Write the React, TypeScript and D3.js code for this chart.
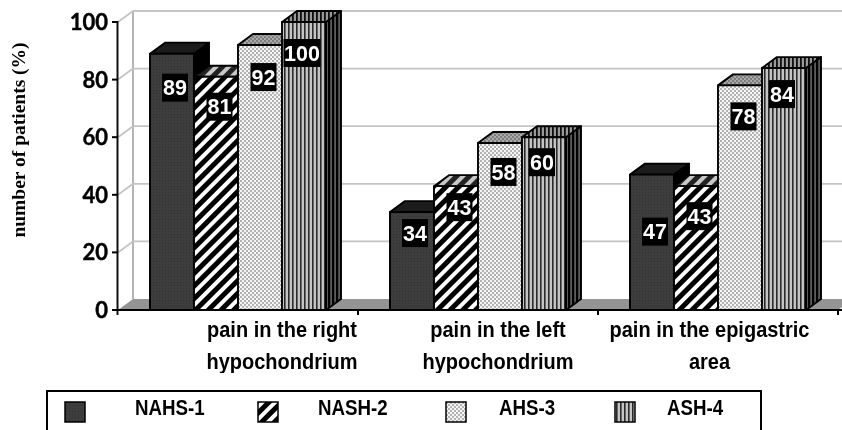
import React from "react";
import * as d3 from "d3";

const categories = ["right", "left", "epigastric"];
const categoryLines = [
  ["pain in the right", "hypochondrium"],
  ["pain in the left", "hypochondrium"],
  ["pain in the epigastric", "area"],
];
const seriesNames = ["NAHS-1", "NASH-2", "AHS-3", "ASH-4"];
const nahs1 = [89, 34, 47];
const nash2 = [81, 43, 43];
const ahs3 = [92, 58, 78];
const ash4 = [100, 60, 84];
const allSeries = [nahs1, nash2, ahs3, ash4];
const yTicks = [0, 20, 40, 60, 80, 100];

// layout only: vertical distance of each value label below its bar top (series x category)
const labelDrop = [
  [34, 21, 57],
  [30, 21, 30],
  [32, 29, 31],
  [31, 25, 26],
];
const labelShift = [3, 3.5, 3.5, -2];
const categoryShift = [44, 20, -8.5];

const W = 842, H = 430;
const x0 = 118, x1 = 838, yBase = 310, yTop = 22;
const dx = 15, dy = -11;
const font = "'Liberation Sans', Arial, sans-serif";

const x = d3.scaleBand<string>().domain(categories).range([x0, x1]).paddingInner(64 / 240).paddingOuter(32 / 240);
const sx = d3.scaleBand<string>().domain(seriesNames).range([0, x.bandwidth()]);
const y = d3.scaleLinear().domain([0, 100]).range([yBase, yTop]);

const fills = {
  front: ["url(#dark)", "url(#hatch)", "url(#dots)", "url(#stripes)"],
  top: ["#1c1c1c", "url(#hatchTop)", "url(#dotsTop)", "url(#stripesTop)"],
  side: ["#050505", "url(#hatchSide)", "url(#dotsSide)", "url(#stripesSide)"],
};

const poly = (pts: number[][]) => pts.map((p) => p.join(",")).join(" ");

function Bar({ s, c }: { s: number; c: number }) {
  const v = allSeries[s][c];
  const l = x(categories[c])! + sx(seriesNames[s])!;
  const r = l + sx.bandwidth();
  const t = y(v);
  return (
    <g stroke="#000" strokeWidth={1.9} strokeLinejoin="round">
      <polygon points={poly([[r, t], [r + dx, t + dy], [r + dx, yBase + dy], [r, yBase]])} fill={fills.side[s]} />
      <polygon points={poly([[l, t], [l + dx, t + dy], [r + dx, t + dy], [r, t]])} fill={fills.top[s]} />
      <rect x={l} y={t} width={r - l} height={yBase - t} fill={fills.front[s]} />
    </g>
  );
}

function ValueLabel({ s, c }: { s: number; c: number }) {
  const v = allSeries[s][c];
  const l = x(categories[c])! + sx(seriesNames[s])!;
  const cx = l + sx.bandwidth() / 2 + labelShift[s];
  const cy = y(v) + labelDrop[s][c];
  const w = v === 100 ? 37 : 26;
  return (
    <g>
      <rect x={cx - w / 2} y={cy - 14} width={w} height={28} fill="#000" />
      <text x={cx} y={cy + 7.7} textAnchor="middle" fontFamily={font} fontWeight={700} fontSize={21.5} fill="#fff">{v}</text>
    </g>
  );
}

const legendX = [65, 258, 446, 615];
const legendTextX = [135, 318, 499, 667];

export default function App() {
  return (
    <svg width={W} height={H} viewBox={`0 0 ${W} ${H}`} style={{ position: "absolute", left: 0, top: 0, background: "#fff" }}>
      <defs>
        <filter id="soft"><feGaussianBlur stdDeviation={0.45} /></filter>
        <pattern id="dark" width={3} height={3} patternUnits="userSpaceOnUse">
          <rect width={3} height={3} fill="#3c3c3c" />
          <rect width={1} height={1} fill="#333" />
        </pattern>
        <pattern id="hatch" width={9} height={9} patternUnits="userSpaceOnUse" patternTransform="rotate(-45)">
          <rect width={9} height={9} fill="#000" />
          <rect width={9} height={4} fill="#fff" />
        </pattern>
        <pattern id="hatchTop" width={9} height={9} patternUnits="userSpaceOnUse" patternTransform="rotate(-45)">
          <rect width={9} height={9} fill="#222" />
          <rect width={9} height={4} fill="#c8c8c8" />
        </pattern>
        <pattern id="hatchSide" width={7} height={7} patternUnits="userSpaceOnUse" patternTransform="rotate(-20)">
          <rect width={7} height={7} fill="#000" />
          <rect width={7} height={2} fill="#666" />
        </pattern>
        <pattern id="dots" width={4} height={4} patternUnits="userSpaceOnUse">
          <rect width={4} height={4} fill="#f4f4f4" />
          <circle cx={1} cy={1} r={0.75} fill="#555" />
          <circle cx={3} cy={3} r={0.75} fill="#555" />
        </pattern>
        <pattern id="dotsTop" width={4} height={4} patternUnits="userSpaceOnUse">
          <rect width={4} height={4} fill="#aaa" />
          <circle cx={1} cy={1} r={0.8} fill="#444" />
          <circle cx={3} cy={3} r={0.8} fill="#444" />
        </pattern>
        <pattern id="dotsSide" width={4} height={4} patternUnits="userSpaceOnUse">
          <rect width={4} height={4} fill="#777" />
          <circle cx={1} cy={1} r={0.9} fill="#222" />
          <circle cx={3} cy={3} r={0.9} fill="#222" />
        </pattern>
        <pattern id="stripes" width={4} height={4} patternUnits="userSpaceOnUse">
          <rect width={4} height={4} fill="#c4c4c4" />
          <rect width={1.6} height={4} fill="#2a2a2a" />
        </pattern>
        <pattern id="stripesTop" width={4} height={4} patternUnits="userSpaceOnUse">
          <rect width={4} height={4} fill="#999" />
          <rect width={1.8} height={4} fill="#111" />
        </pattern>
        <pattern id="stripesSide" width={4} height={4} patternUnits="userSpaceOnUse">
          <rect width={4} height={4} fill="#5c5c5c" />
          <rect width={2.2} height={4} fill="#000" />
        </pattern>
      </defs>

      <g filter="url(#soft)">
        {/* floor */}
        <polygon points={poly([[x0, yBase], [x0 + dx, yBase + dy], [x1 + dx, yBase + dy], [x1, yBase]])} fill="#949494" />
        {/* left wall and grid */}
        <line x1={x0 + dx} x2={x0 + dx} y1={yBase + dy} y2={yTop + dy} stroke="#b5b5b5" strokeWidth={2} />
        {yTicks.slice(1).map((t) => (
          <g key={t} stroke="#c4c4c4" strokeWidth={1.8}>
            <line x1={x0} y1={y(t)} x2={x0 + dx} y2={y(t) + dy} />
            <line x1={x0 + dx} y1={y(t) + dy} x2={W} y2={y(t) + dy} />
          </g>
        ))}

        {/* bars */}
        {categories.map((_, c) => seriesNames.map((_n, s) => <Bar key={`${c}-${s}`} s={s} c={c} />))}
        {categories.map((_, c) => seriesNames.map((_n, s) => <ValueLabel key={`l${c}-${s}`} s={s} c={c} />))}

        {/* axes */}
        <line x1={x0 - 0.5} x2={x0 - 0.5} y1={yTop - 1} y2={yBase + 5} stroke="#111" strokeWidth={2} />
        <line x1={x0 - 6} x2={W} y1={yBase} y2={yBase} stroke="#000" strokeWidth={2} />
        {yTicks.map((t) => (
          <g key={t}>
            <line x1={x0 - 6} x2={x0} y1={y(t)} y2={y(t)} stroke="#000" strokeWidth={2} />
            <text x={x0 - 10} y={y(t) + 8} textAnchor="end" fontFamily="Lato, sans-serif" fontWeight={700} fontSize={22} stroke="#000" strokeWidth={0.4} fill="#000">{t}</text>
          </g>
        ))}
        {categories.map((c) => {
          const right = x(c)! - x.step() * (32 / 240) + x.step();
          return <line key={c} x1={right} x2={right} y1={yBase} y2={yBase + 5} stroke="#000" strokeWidth={2} />;
        })}
        <text transform="translate(25,140) rotate(-90)" textAnchor="middle" fontFamily="'Liberation Serif', serif" fontWeight={700} fontSize={19.5} fill="#000">number of patients (%)</text>

        {categoryLines.map((lines, i) => {
          const cx = x(categories[i])! + x.bandwidth() / 2 + categoryShift[i];
          return lines.map((ln, j) => (
            <text key={ln + j} transform={`translate(${cx},${337 + j * 31.5}) scale(1,1.1)`} textAnchor="middle" fontFamily={font} fontWeight={700} fontSize={20} fill="#000">{ln}</text>
          ));
        })}

        {/* legend */}
        <rect x={47} y={391} width={714} height={50} fill="#fff" stroke="#000" strokeWidth={2} />
        {seriesNames.map((n, s) => (
          <g key={n}>
            <rect x={legendX[s]} y={402} width={20} height={20} fill={fills.front[s]} stroke="#000" strokeWidth={1.5} />
            <text transform={`translate(${legendTextX[s]},415) scale(1,1.16)`} fontFamily={font} fontWeight={700} fontSize={18.7} fill="#000">{n}</text>
          </g>
        ))}
      </g>
    </svg>
  );
}
